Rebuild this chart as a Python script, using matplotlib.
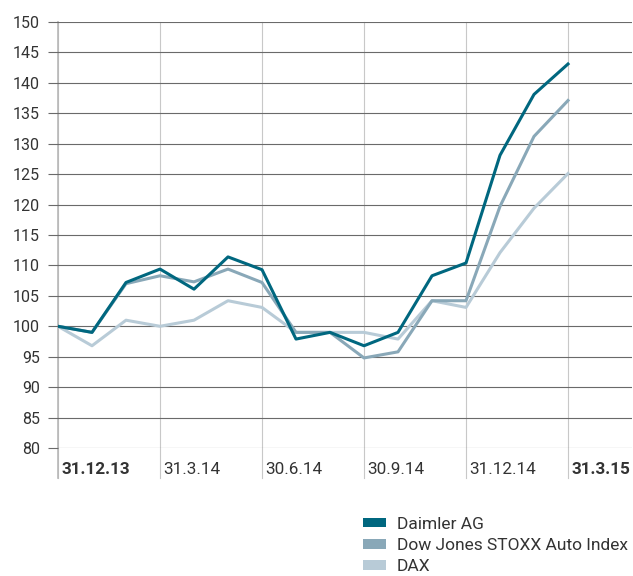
import numpy as np
import matplotlib
matplotlib.use('Agg')
import matplotlib.pyplot as plt
from matplotlib.patches import Patch
from matplotlib.transforms import blended_transform_factory

plt.rcParams['font.family'] = ['Roboto', 'DejaVu Sans']

# monthly index values, 31.12.13 = 100
months   = np.arange(16)
daimler  = [100, 99.0, 107.2, 109.4, 106.1, 111.4, 109.3, 97.9, 99.0, 96.8, 99.0, 108.3, 110.4, 128.1, 138.1, 143.1]
stoxx    = [100, 99.0, 107.0, 108.3, 107.3, 109.4, 107.2, 99.0, 99.0, 94.8, 95.8, 104.2, 104.2, 119.7, 131.2, 137.1]
dax      = [100, 96.8, 101.0, 100.0, 101.0, 104.2, 103.1, 99.0, 99.0, 99.0, 97.9, 104.2, 103.1, 112.1, 119.4, 125.1]
q_pos    = [0, 3, 6, 9, 12, 15]
q_labels = ['31.12.13', '31.3.14', '30.6.14', '30.9.14', '31.12.14', '31.3.15']
q_bold   = [True, False, False, False, False, True]
names    = ['Daimler AG', 'Dow Jones STOXX Auto Index', 'DAX']
colors   = ['#00677f', '#89a8b8', '#b8cbd7']

fig = plt.figure(figsize=(6.33, 5.76), dpi=100)
ax = fig.add_axes([58/633, 1 - 448/576, 574/633, 426/576])
ax.set_xlim(0, 574/34)
ax.set_ylim(80, 150)

# horizontal grid
ax.set_yticks(np.arange(80, 151, 5))
for v in np.arange(80, 151, 5):
    ax.axhline(v, color='#6a6a6a', lw=0.8, zorder=1)
ax.tick_params(axis='y', direction='out', length=7, width=0.8, color='#6a6a6a',
               labelsize=11.5, labelcolor='#333333', pad=6)
ax.set_xticks([])

# vertical quarter lines, reaching down into the label area
y_low = 80 - 30/6.086
for p in q_pos:
    ax.plot([p, p], [y_low, 150], color='#c8c8c8', lw=0.8, zorder=0, clip_on=False)
ax.plot([0, 0], [y_low, 150], color='#b8b8b8', lw=1.2, zorder=0, clip_on=False)

for s in ax.spines.values():
    s.set_visible(False)

ax.plot(months, dax, color=colors[2], lw=2.2, zorder=3)
ax.plot(months, stoxx, color=colors[1], lw=2.2, zorder=4)
ax.plot(months, daimler, color=colors[0], lw=2.2, zorder=5)

trans = blended_transform_factory(ax.transData, ax.transAxes)
for p, lab, b in zip(q_pos, q_labels, q_bold):
    ax.text(p + 0.1, -22/426, lab, transform=trans, ha='left', va='center',
            fontsize=12.3, color='#333333', fontweight='bold' if b else 'normal')

handles = [Patch(facecolor=c, edgecolor='none') for c in colors]
fig.legend(handles, names, loc='upper left', bbox_to_anchor=(347/633, 1 - 501/576),
           frameon=False, fontsize=12.5, handlelength=1.33, handleheight=0.5,
           labelspacing=0.36, handletextpad=0.63, labelcolor='#333333')

plt.savefig('out.png', dpi=100)
